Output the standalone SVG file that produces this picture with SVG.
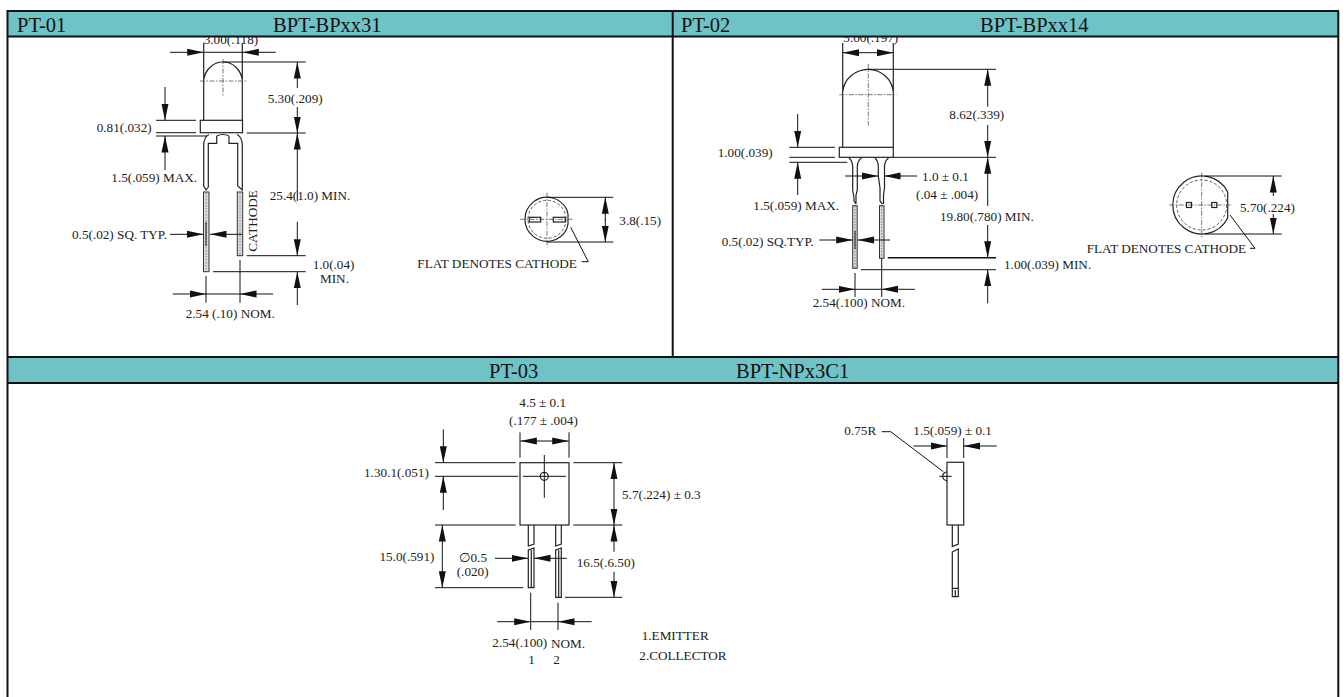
<svg xmlns="http://www.w3.org/2000/svg" width="1343" height="697" viewBox="0 0 1343 697">
<style>
text{font-family:"Liberation Serif","Times New Roman",serif;font-size:13.2px;fill:#222}
.hd{font-size:20.5px;fill:#111}
.d{fill:none;stroke:#111;stroke-width:1}
.a{fill:none;stroke:#111;stroke-width:1;marker-end:url(#ah)}
.n{fill:none;stroke:#222;stroke-width:1.2}
.c{fill:none;stroke:#555;stroke-width:.8;stroke-dasharray:5 1.5 1.5 1.5}
.i{fill:none;stroke:#333;stroke-width:.8;stroke-dasharray:3 2}
.l{fill:#ddd;stroke:#333;stroke-width:1}
.p{fill:none;stroke:#666;stroke-width:.8;stroke-dasharray:1.5 1.5}
.bar{fill:#6fc3c7}
.fr{fill:none;stroke:#111;stroke-width:2}
</style>
<defs>
<marker id="ah" markerUnits="userSpaceOnUse" markerWidth="17" markerHeight="9" refX="16.5" refY="4.5" orient="auto"><path d="M0 1 L16.5 4.5 L0 8Z" fill="#111"/></marker>
</defs>

<g id="pt01-drawing">
<path class="n" d="M203.7 43V120.3M242.3 43V120.3M203.7 80C205 70 213 62 223 62C233 62 241 70 242.3 80"/>
<path class="c" d="M200 81H247M223 59V97"/>
<rect class="n" x="200.3" y="120.3" width="42.2" height="12.4"/>
<path class="n" d="M203.7 146Q203.7 137 209 134.5M242.3 146Q242.3 137 237 134.5M216.7 136V143.3H208.3V186M229 136V143.3H237.7V186M216.7 136Q223 133 229 136M203.7 146V186L206 190L209 186M237.7 186L242.3 190V146"/>
<rect class="l" x="203.5" y="192" width="5.5" height="79.7"/>
<rect class="l" x="237.3" y="192" width="5.4" height="63.7"/>
<path class="p" d="M206.2 193V271M240 193V255"/>
<path class="n" d="M566.7 209.5A22 22 0 1 0 566.7 229L568 224V214Z"/>
<circle class="i" cx="547" cy="219.3" r="19"/>
<path class="c" d="M520 219.3H574M547 192.7V247.3"/>
<rect class="n" x="529.3" y="217.3" width="11.4" height="4.7"/>
<rect class="n" x="553.3" y="217.3" width="12" height="4.7"/>
</g>

<g id="pt02-drawing">
<path class="n" d="M842.7 43V147.3M893.3 43V147.3M842.7 91.7C844 79 855 69.3 868.3 69.3C881 69.3 892 79 893.3 91.7"/>
<path class="c" d="M839.3 94.7H896.7M868.3 64V125.7"/>
<rect class="n" x="839.3" y="147.3" width="54" height="10"/>
<path class="n" d="M849 158Q852.7 161 852.7 167V190L854 198V201L856 204M861.5 158Q857.3 161 857.3 167V190L856 195V204M875 158Q878.3 161 878.3 167V176L880 188V201L882.5 204M888.5 158Q884.5 161 884.5 167V188L883.5 195V204"/>
<rect class="l" x="852.7" y="205.7" width="4.5" height="62.6"/>
<rect class="l" x="879.5" y="205.7" width="4.5" height="52.6"/>
<path class="p" d="M855 206V268M881.7 206V258"/>
<path class="n" d="M1227.7 192A29 29 0 1 0 1227.7 218Z"/>
<circle class="i" cx="1201.7" cy="205" r="25"/>
<path class="c" d="M1169.3 205H1230.7M1201.7 172.7V237.3"/>
<rect class="n" x="1186.5" y="202.5" width="5" height="5"/>
<rect class="n" x="1211.8" y="202.5" width="5" height="5"/>
</g>

<g id="pt03-drawing">
<rect class="n" x="520" y="462.7" width="49" height="62.3"/>
<circle class="n" cx="544.3" cy="476.3" r="4"/>
<path class="d" d="M544.3 455V497.7M523 476.3H566"/>
<path class="n" d="M528.3 525V546L534 544V525M555.7 525V546L561.3 544V525"/>
<path class="n" d="M528.3 587.7V550L534 548V587.7ZM531.3 550V587.7M555.7 597.3V550L561.3 548V597.3ZM558.7 550V597.3"/>
<rect class="n" x="947" y="462.3" width="16.7" height="62.7"/>
<path class="n" d="M947 472A4.3 4.3 0 0 0 947 480.6"/>
<path class="d" d="M939.3 476.3H951.7"/>
<path class="n" d="M952.3 525V546.5L958.3 544V525M952.3 552L958.3 549V596.7H952.3ZM952.3 588.3H958.3M955.3 590V596.7"/>
</g>

<g id="connectors">
<path class="d" d="M156 120.3H196M156 132.7H196M156 136H206.5M223 62H305.7M246.7 133H305.7M246.7 255.7H305.7M213 271.7H305.7"/>
<path class="a" d="M165 87V120.3"/><path class="a" d="M165 170V136"/>
<path class="a" d="M170 52.3H203.7"/><path class="a" d="M275.7 52.3H242.3"/><path class="d" d="M203.7 52.3H242.3"/>
<path class="a" d="M297.3 88V62"/><path class="a" d="M297.3 107V133"/>
<path class="a" d="M297.3 201V133"/><path class="a" d="M297.3 221.7V255.7"/>
<path class="a" d="M297.3 305V271.7"/>
<path class="a" d="M170 234.3H203.3"/><path class="a" d="M242 234.3H210"/>
<path class="d" d="M206 222V246"/>
<path class="d" d="M206 276V302.7M240 260V302.7M206 294H240"/>
<path class="a" d="M172.7 294H206"/><path class="a" d="M273 294H240"/>
<path class="d" d="M547 197.3H613.3M547 242H613.3M581.7 261.7H588.3L570.7 227.3"/>
<path class="a" d="M605.3 220V197.3"/><path class="a" d="M605.3 219V242"/>

<path class="d" d="M789.3 147.3H835M789.3 157.3H835M789.3 162.3H847.3M868 69.3H996M893.3 157.3H996M861 269.7H996"/>
<path d="M887.7 257.7H996" fill="none" stroke="#111" stroke-width="1.5"/>
<path class="a" d="M797.7 114V147.3"/><path class="a" d="M797.7 195V162.3"/>
<path class="a" d="M860 52.7H842.7"/><path class="a" d="M876 52.7H893.3"/><path class="d" d="M860 52.7H876"/>
<path class="a" d="M987.7 106.7V69.3"/><path class="a" d="M987.7 125V157.3"/>
<path class="a" d="M987.7 206V157.3"/><path class="a" d="M987.7 225V257.7"/>
<path class="a" d="M987.7 303.3V269.7"/>
<path class="a" d="M845 176H878"/><path class="a" d="M917 176H884"/>
<path class="a" d="M819.3 240H852.7"/><path class="a" d="M890 240H857.7"/>
<path class="d" d="M855 231V249"/>
<path class="d" d="M855 273V297M881.7 259V297M855 289.3H881.7"/>
<path class="a" d="M821.7 289.3H855"/><path class="a" d="M915 289.3H881.7"/>
<path class="d" d="M1205 176H1281.7M1205 234H1281.7M1250 248.3H1255L1230 215"/>
<path class="a" d="M1273.3 196V176"/><path class="a" d="M1273.3 214V234"/>

<path class="d" d="M520 432.3V457.7M569 432.3V457.7M435 462.7H515.7M573.3 462.7H622.3M435 476.3H518.3M435 525H515.7M573.3 525H622.3M435 587.7H523.3M565 597.3H622.3"/>
<path class="a" d="M544 441H520.3"/><path class="a" d="M544 441H568.7"/>
<path class="a" d="M443.3 429.3V462.7"/><path class="a" d="M443.3 510V476.3"/>
<path class="a" d="M614 494V462.7"/><path class="a" d="M614 494V525"/>
<path class="a" d="M442.3 556V525"/><path class="a" d="M442.3 556V587.7"/>
<path class="a" d="M614 551.7V525"/><path class="a" d="M614 571.7V597.3"/>
<path class="a" d="M495 558.3H528"/><path class="a" d="M566.7 558.3H534"/>
<path class="d" d="M530.7 592.7V630M558 602.7V630M530.7 621.7H558"/>
<path class="a" d="M497.3 621.7H530.7"/><path class="a" d="M591.7 621.7H558"/>
<path class="d" d="M947 438V458M963.7 438V458M881.7 431.7H890.7L943.3 471.7"/>
<path class="a" d="M913.3 446H947"/><path class="a" d="M996.7 446H963.7"/>
</g>

<g id="labels-pt01">
<text x="203.7" y="44">3.00(.118)</text>
<text x="267.7" y="103.3">5.30(.209)</text>
<text x="96.7" y="132">0.81(.032)</text>
<text x="111.3" y="181.7">1.5(.059) MAX.</text>
<text x="269.7" y="200">25.4(1.0) MIN.</text>
<text x="72" y="238.7">0.5(.02) SQ. TYP.</text>
<text x="257.3" y="251.7" transform="rotate(-90 257.3 251.7)">CATHODE</text>
<text x="312.7" y="269.3">1.0(.04)</text>
<text x="320" y="282.7">MIN.</text>
<text x="185.7" y="318">2.54 (.10) NOM.</text>
<text x="619.3" y="225">3.8(.15)</text>
<text x="417.3" y="267.7">FLAT DENOTES CATHODE</text>
</g>
<g id="labels-pt02">
<text x="843.3" y="41.7">5.00(.197)</text>
<text x="949.3" y="119">8.62(.339)</text>
<text x="717.7" y="157.3">1.00(.039)</text>
<text x="922" y="180.7">1.0 ± 0.1</text>
<text x="916" y="199.3">(.04 ± .004)</text>
<text x="753.3" y="210">1.5(.059) MAX.</text>
<text x="940" y="221">19.80(.780) MIN.</text>
<text x="721.7" y="245.7">0.5(.02) SQ.TYP.</text>
<text x="1004" y="269">1.00(.039) MIN.</text>
<text x="812.7" y="307.3">2.54(.100) NOM.</text>
<text x="1240" y="212.3">5.70(.224)</text>
<text x="1086.7" y="252.7">FLAT DENOTES CATHODE</text>
</g>
<g id="labels-pt03">
<text x="519.3" y="406.7">4.5 ± 0.1</text>
<text x="509" y="425">(.177 ± .004)</text>
<text x="364" y="477.3">1.30.1(.051)</text>
<text x="622" y="499.3">5.7(.224) ± 0.3</text>
<text x="379.5" y="561">15.0(.591)</text>
<text x="459" y="561.7" style="font-family:'Liberation Serif','DejaVu Sans',serif">∅0.5</text>
<text x="456.7" y="576">(.020)</text>
<text x="576.7" y="566.7">16.5(.6.50)</text>
<text x="492.3" y="647.3">2.54(.100)</text>
<text x="551" y="648">NOM.</text>
<text x="528.3" y="664">1</text>
<text x="553.3" y="664">2</text>
<text x="641.7" y="640">1.EMITTER</text>
<text x="639.3" y="660">2.COLLECTOR</text>
<text x="844.3" y="435">0.75R</text>
<text x="913.3" y="435">1.5(.059) ± 0.1</text>
</g>

<g id="frame">
<rect class="bar" x="8" y="11" width="1330" height="25.5"/>
<rect class="bar" x="8" y="357" width="1330" height="26"/>
<path class="fr" d="M6.5 11H1339M6.5 36.5H1339M7.5 11V697M1338.3 11V697M672.7 11V358M6.5 357H1339M6.5 383H1339"/>
<text class="hd" x="17" y="32">PT-01</text>
<text class="hd" x="273" y="32">BPT-BPxx31</text>
<text class="hd" x="681" y="32">PT-02</text>
<text class="hd" x="980" y="32">BPT-BPxx14</text>
<text class="hd" x="489" y="378">PT-03</text>
<text class="hd" x="736" y="378">BPT-NPx3C1</text>
</g>
</svg>
